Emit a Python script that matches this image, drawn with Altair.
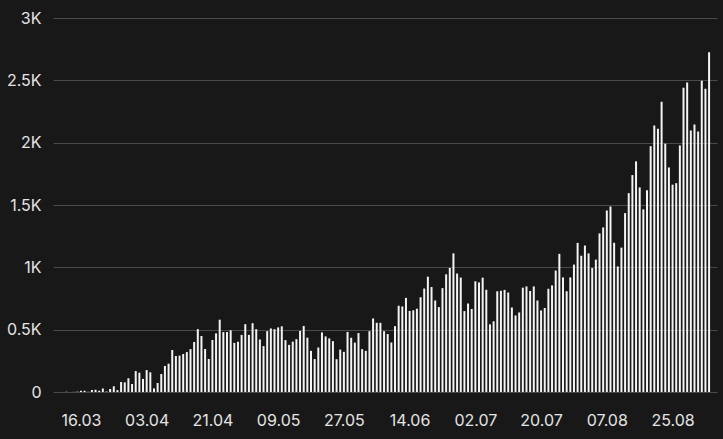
import altair as alt
import pandas as pd

# ---- data (daily counts, one bar per day) ----
start_date = "2020-03-12"
cases = [
    2, 0, 1, 3, 10, 10, 2, 16, 18, 10,
    28, 4, 24, 46, 15, 80, 77, 110, 64, 168,
    155, 105, 176, 158, 29, 72, 144, 209, 227, 337,
    289, 292, 305, 320, 344, 401, 504, 449, 345, 265,
    417, 470, 580, 481, 481, 495, 394, 403, 458, 544,
    458, 552, 504, 421, 368, 488, 510, 504, 518, 527,
    416, 378, 404, 424, 490, 530, 436, 330, 264, 357,
    478, 446, 430, 408, 263, 340, 322, 482, 435, 396,
    473, 344, 330, 488, 590, 555, 555, 488, 465, 397,
    528, 692, 686, 755, 650, 655, 668, 760, 830, 925,
    842, 734, 681, 833, 944, 995, 1112, 950, 918, 649,
    710, 666, 888, 879, 917, 820, 543, 567, 808, 812,
    819, 798, 678, 614, 638, 837, 847, 810, 847, 734,
    654, 674, 828, 855, 974, 1108, 919, 808, 919, 1022,
    1196, 1093, 1175, 1112, 994, 1062, 1272, 1320, 1456, 1488,
    1197, 1007, 1158, 1435, 1595, 1740, 1850, 1641, 1465, 1618,
    1972, 2137, 2112, 2329, 1992, 1801, 1663, 1675, 1978, 2440,
    2483, 2097, 2145, 2089, 2496, 2433, 2725,
]
tick_dates = [(3, 16), (4, 3), (4, 21), (5, 9), (5, 27), (6, 14), (7, 2), (7, 20), (8, 7), (8, 25)]
tick_labels = ["16.03", "03.04", "21.04", "09.05", "27.05", "14.06", "02.07", "20.07", "07.08", "25.08"]
y_ticks = [0, 500, 1000, 1500, 2000, 2500, 3000]

BG = "#181818"

dates = pd.date_range(start_date, periods=len(cases), freq="D")
df = pd.DataFrame({"date": dates.strftime("%Y-%m-%dT00:00:00"), "cases": cases})

x_values = [alt.DateTime(year=2020, month=m, date=d) for m, d in tick_dates]
x_domain = [
    alt.DateTime(year=2020, month=3, date=9, hours=17, minutes=17),
    alt.DateTime(year=2020, month=9, date=4, hours=19, minutes=10),
]

chart = (
    alt.Chart(df)
    .mark_bar(width=2, color="#f4f4f4")
    .encode(
        x=alt.X(
            "date:T",
            scale=alt.Scale(domain=x_domain, nice=False),
            axis=alt.Axis(
                values=x_values,
                format="%d.%m",
                title=None,
                grid=False,
                domain=False,
                ticks=False,
                labelPadding=20,
                labelFontSize=16,
                labelColor="#e4e4e4",
                labelFont="Inter",
            ),
        ),
        y=alt.Y(
            "cases:Q",
            scale=alt.Scale(domain=[0, 3000], nice=False),
            axis=alt.Axis(
                values=y_ticks,
                labelExpr="datum.value == 0 ? '0' : (datum.value / 1000) + 'K'",
                title=None,
                grid=True,
                gridColor="#4a4a4a",
                gridWidth=1.2,
                domain=False,
                ticks=False,
                labelPadding=12,
                labelFontSize=16,
                labelColor="#e4e4e4",
                labelFont="Inter",
            ),
        ),
    )
    .properties(
        width=664,
        height=374,
        background=BG,
        autosize=alt.AutoSizeParams(type="none"),
        padding={"left": 53, "top": 18, "right": 4, "bottom": 40},
    )
    .configure_view(strokeWidth=0)
)

# dark, margin-free page behind the chart so the whole window is the chart
try:
    from altair.utils import html as _alt_html

    _tpl = _alt_html.TEMPLATES["standard"]
    _orig_render = _tpl.render

    def _render(*a, **k):
        out = _orig_render(*a, **k)
        return out.replace(
            "<body>", '<body style="margin:0;background:%s;overflow:hidden">' % BG, 1
        )

    _tpl.render = _render
except Exception:
    pass

chart.save("out.html", embed_options={"renderer": "svg", "actions": False})
